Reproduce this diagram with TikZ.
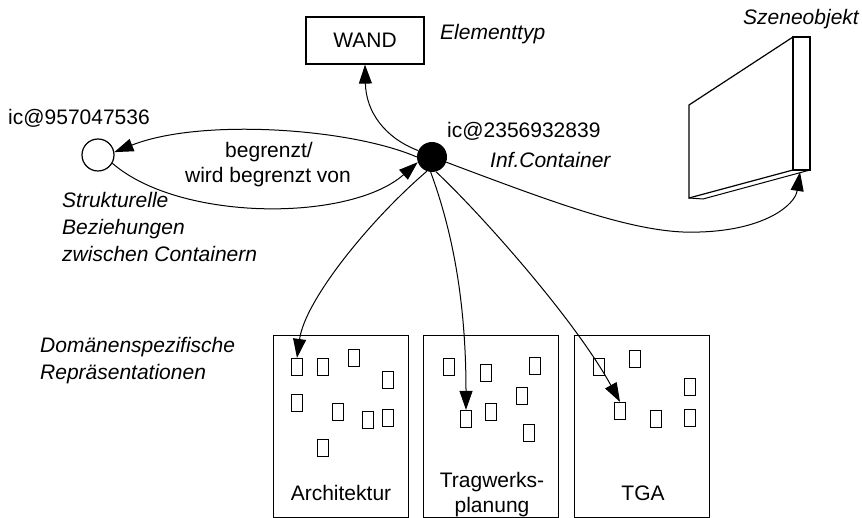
\documentclass[tikz,border=0pt]{standalone}
\usepackage{fontspec}
\setmainfont{Liberation Sans}
\usetikzlibrary{arrows.meta}
\begin{document}
\begin{tikzpicture}[x=1pt,y=-1pt,
  every node/.style={font=\fontsize{21}{27}\selectfont, inner sep=0pt},
  lbl/.style={anchor=base west},
  note/.style={anchor=base west, font=\fontsize{21}{27}\selectfont\itshape},
  arr/.style={line width=1pt, -{Triangle[length=19pt,width=13pt]}},
  typebox/.style={draw, line width=1.2pt},
  elem/.style={draw, line width=1.2pt, minimum width=11pt, minimum height=17pt},
  domainbox/.style={draw, line width=1.2pt, minimum width=135pt, minimum height=182pt, anchor=north west}]
\useasboundingbox (0,0) rectangle (862,518);

% element type
\node[typebox, minimum width=118pt, minimum height=47pt] (wand) at (365,40.5) {WAND};
\node[note] (elty) at (440,40) {Elementtyp};

% information containers
\node[circle, fill=black, minimum size=30pt] (ic) at (432,157) {};
\node[circle, draw, line width=1.2pt, minimum size=32pt] (ic2) at (98,155) {};
\node[lbl] (icname) at (447,138) {ic@2356932839};
\node[note] (icnote) at (490,168) {Inf.Container};
\node[lbl] (ic2name) at (8,125) {ic@957047536};

% structural relation
\node[anchor=base] (rel1) at (269,158) {begrenzt/};
\node[anchor=base] (rel2) at (268,183) {wird begrenzt von};
\node[note] (str1) at (62,208) {Strukturelle};
\node[note] (str2) at (62,235) {Beziehungen};
\node[note] (str3) at (62,262) {zwischen Containern};

% scene object: a wall slab in perspective
\draw[line width=1.2pt, line join=miter] (689,105) -- (793,37) -- (793,170) -- (689,198) -- cycle;
\draw[line width=1.2pt] (793,37) rectangle (810,170);
\draw[line width=1pt] (689,198) -- (703,199) -- (810,170);
\coordinate (wallfoot) at (800,172);
\node[note] (scn) at (743,25) {Szeneobjekt};

% domain-specific representations
\node[note] (dom1) at (40,353) {Domänenspezifische};
\node[note] (dom2) at (40,380) {Repräsentationen};

\node[domainbox] (arch) at (273,335) {};
\node[domainbox] (trag) at (423,335) {};
\node[domainbox] (tga) at (574,335) {};
\node[anchor=base] (archl) at (341,500) {Architektur};
\node[anchor=base] (tragl1) at (492,487) {Tragwerks-};
\node[anchor=base] (tragl2) at (492,512) {planung};
\node[anchor=base] (tgal) at (643,500) {TGA};

% elements in Architektur
\node[elem] (a1) at (297,367) {};
\node[elem] (a2) at (323,367) {};
\node[elem] (a3) at (354,358) {};
\node[elem] (a4) at (388,380) {};
\node[elem] (a5) at (297,403) {};
\node[elem] (a6) at (338,412) {};
\node[elem] (a7) at (368,420) {};
\node[elem] (a8) at (388,418) {};
\node[elem] (a9) at (323,448) {};

% elements in Tragwerksplanung
\node[elem] (t1) at (449,367) {};
\node[elem] (t2) at (486,373) {};
\node[elem] (t3) at (535,366) {};
\node[elem] (t4) at (522,396) {};
\node[elem] (t5) at (466,419) {};
\node[elem] (t6) at (491,412) {};
\node[elem] (t7) at (529,433) {};

% elements in TGA
\node[elem] (g1) at (599,367) {};
\node[elem] (g2) at (635,359) {};
\node[elem] (g3) at (690,387) {};
\node[elem] (g4) at (620,411) {};
\node[elem] (g5) at (656,419) {};
\node[elem] (g6) at (690,418) {};

% connectors
\draw[arr] (ic.155) .. controls (385,138) and (366,112) .. (wand.south);
\draw[arr] (ic.west) .. controls (350,128) and (200,118) .. (ic2.10);
\draw[arr] (ic2.-30) .. controls (180,222) and (350,222) .. (ic.200);
\draw[arr] (ic.-20) .. controls (560,205) and (640,235) .. (700,232)
   .. controls (765,230) and (795,205) .. (wallfoot);
\draw[arr] (ic.250) .. controls (370,220) and (305,300) .. (a1.north);
\draw[arr] (ic.-95) .. controls (452,230) and (466,300) .. (t5.north);
\draw[arr] (ic.-75) .. controls (482,215) and (575,320) .. (g4.north);
\end{tikzpicture}
\end{document}
